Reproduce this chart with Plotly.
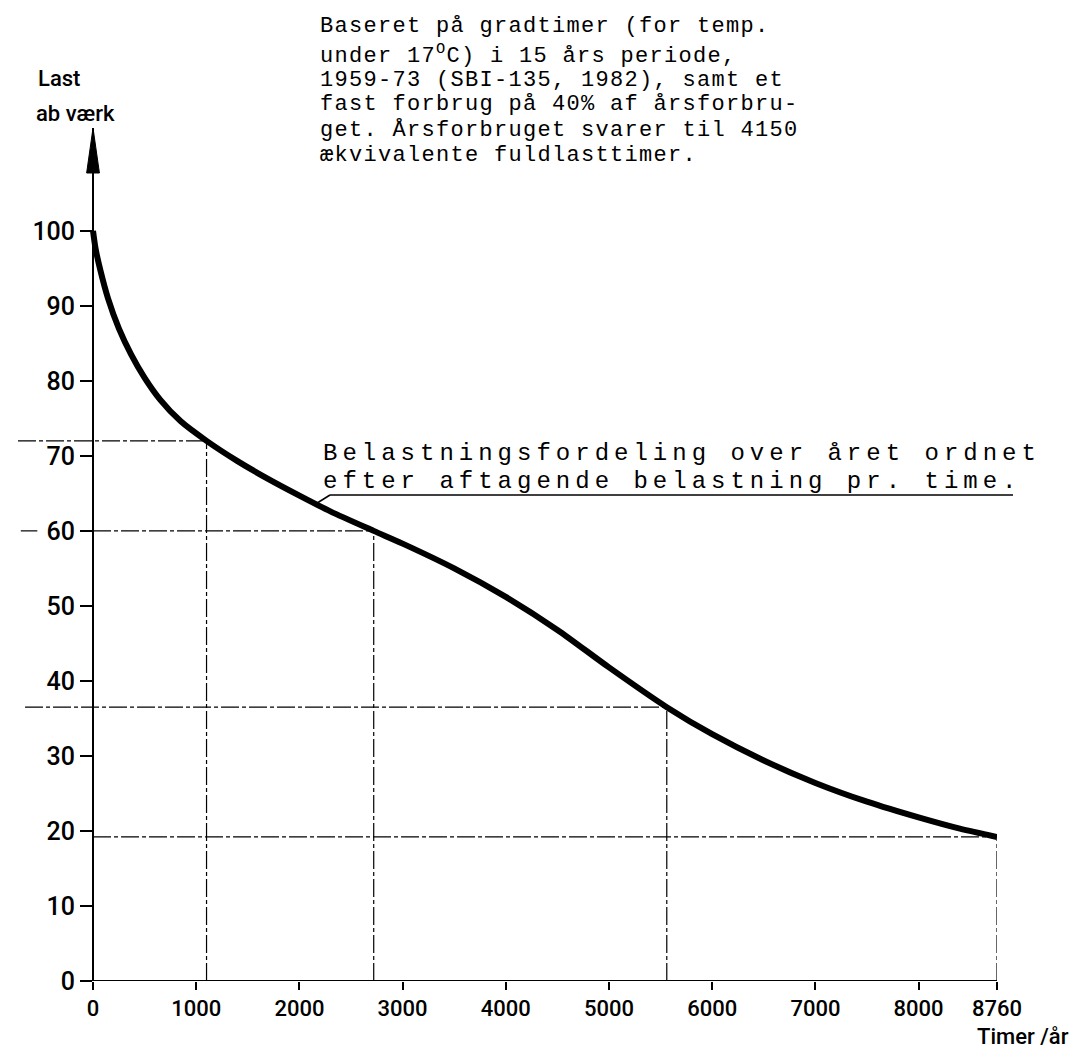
import plotly.graph_objects as go

# load duration curve: hours per year, sorted by decreasing load (% of plant capacity)
hours = [0, 25, 70, 145, 250, 370, 500, 650, 850, 1100, 1400, 1700, 2000, 2300, 2720,
         3000, 3500, 4000, 4500, 5000, 5560, 6000, 6500, 7000, 7500, 8000, 8400, 8760]
load = [100, 97.6, 94.8, 91, 87, 83.5, 80.4, 77.5, 74.6, 72, 69.3, 66.9, 64.7, 62.6, 60,
        58.3, 55, 51.2, 46.8, 41.8, 36.5, 32.9, 29.4, 26.4, 23.9, 21.8, 20.3, 19.2]

# read-off points marked with thin lines
mark_hours = [1100, 2720, 5560, 8760]
mark_load = [72, 60, 36.5, 19.2]

x_ticks = [0, 1000, 2000, 3000, 4000, 5000, 6000, 7000, 8000, 8760]
y_ticks = [0, 10, 20, 30, 40, 50, 60, 70, 80, 90, 100]

note_lines = [
    "Baseret på gradtimer (for temp.",
    "under 17<sup>O</sup>C) i 15 års periode,",
    "1959-73 (SBI-135, 1982), samt et",
    "fast forbrug på 40% af årsforbru-",
    "get. Årsforbruget svarer til 4150",
    "ækvivalente fuldlasttimer.",
]
curve_lines = [
    "Belastningsfordeling over året ordnet",
    "efter aftagende belastning pr. time.",
]

W, H = 1079, 1048
ML, MR, MT, MB = 0, 90, 120, 75
PW, PH = W - ML - MR, H - MT - MB
X0 = -824          # left edge of plot area in hours (y axis sits at 0)
Y1 = 113.7         # top of plot area (arrow tip)


def px(xp):
    return (xp - ML) / PW


def py(yp):
    return (H - MB - yp) / PH


mono = "Liberation Mono"
hand = "Roboto"
ref_line = dict(color="black", width=1.2, dash="18px,3px,4px,3px")

fig = go.Figure()
fig.add_trace(go.Scatter(x=hours, y=load, mode="lines",
                         line=dict(color="black", width=6, shape="spline", smoothing=0.8),
                         cliponaxis=False, hoverinfo="skip"))

# thin read-off lines (horizontal ones run past the y axis on the left)
left_ends = [-727, 0, -659, 0]
for h, v, x_left in zip(mark_hours, mark_load, left_ends):
    fig.add_shape(type="line", x0=x_left, x1=h, y0=v, y1=v, line=ref_line)
    fig.add_shape(type="line", x0=h, x1=h, y0=0, y1=v, line=ref_line)
fig.add_shape(type="line", x0=-700, x1=-540, y0=mark_load[1], y1=mark_load[1], line=ref_line)

# x axis line and y axis arrow head
fig.add_shape(type="line", x0=0, x1=8760, y0=0, y1=0, line=dict(color="black", width=2))
fig.add_shape(type="path", path=f"M -62 {Y1 - 6} L 0 {Y1} L 62 {Y1 - 6} Z",
              fillcolor="black", line=dict(color="black", width=1))

note_y = [18, 47, 72, 97, 122, 147]
for t, yy in zip(note_lines, note_y):
    fig.add_annotation(x=px(310), y=py(yy), xref="paper", yref="paper",
                       xanchor="left", yanchor="middle", showarrow=False,
                       text=f'<span style="letter-spacing:1.3px">{t}</span>',
                       font=dict(family=mono, size=22, color="black"))
for i, t in enumerate(curve_lines):
    fig.add_annotation(x=px(313), y=py(446 + i * 27), xref="paper", yref="paper",
                       xanchor="left", yanchor="middle", showarrow=False,
                       text=f'<span style="letter-spacing:5px">{t}</span>',
                       font=dict(family=mono, size=24, color="black"))
# underline and leader to the curve
fig.add_shape(type="line", xref="paper", yref="paper", x0=px(322), x1=px(1005),
              y0=py(487), y1=py(487), line=dict(color="black", width=1.5))
fig.add_shape(type="line", xref="paper", yref="paper", x0=px(322), x1=px(306),
              y0=py(487), y1=py(497), line=dict(color="black", width=1.5))

# axis titles
title_font = dict(family=hand, size=22, color="black", weight=500)
fig.add_annotation(x=px(28), y=py(70), xref="paper", yref="paper", xanchor="left",
                   yanchor="middle", showarrow=False, text="Last", font=title_font)
fig.add_annotation(x=px(26), y=py(105), xref="paper", yref="paper", xanchor="left",
                   yanchor="middle", showarrow=False, text="ab værk", font=title_font)
fig.add_annotation(x=px(1015), y=py(1028), xref="paper", yref="paper", xanchor="center",
                   yanchor="middle", showarrow=False, text="Timer /år", font=title_font)

fig.update_layout(
    width=W, height=H, margin=dict(l=ML, r=MR, t=MT, b=MB),
    paper_bgcolor="white", plot_bgcolor="white", showlegend=False,
    xaxis=dict(range=[X0, 8760], tickvals=x_ticks, ticks="outside", ticklen=8, tickwidth=2,
               tickcolor="black", showline=False, showgrid=False, zeroline=False,
               tickfont=dict(family=hand, size=22, color="black", weight=500)),
    yaxis=dict(range=[0, Y1], anchor="free", position=-X0 / (8760 - X0), tickvals=y_ticks,
               ticks="outside", ticklen=12, tickwidth=2, tickcolor="black",
               showline=True, linewidth=2, linecolor="black", showgrid=False, zeroline=False,
               tickfont=dict(family=hand, size=25, color="black", weight=500)),
)

fig.write_html("out.html")
